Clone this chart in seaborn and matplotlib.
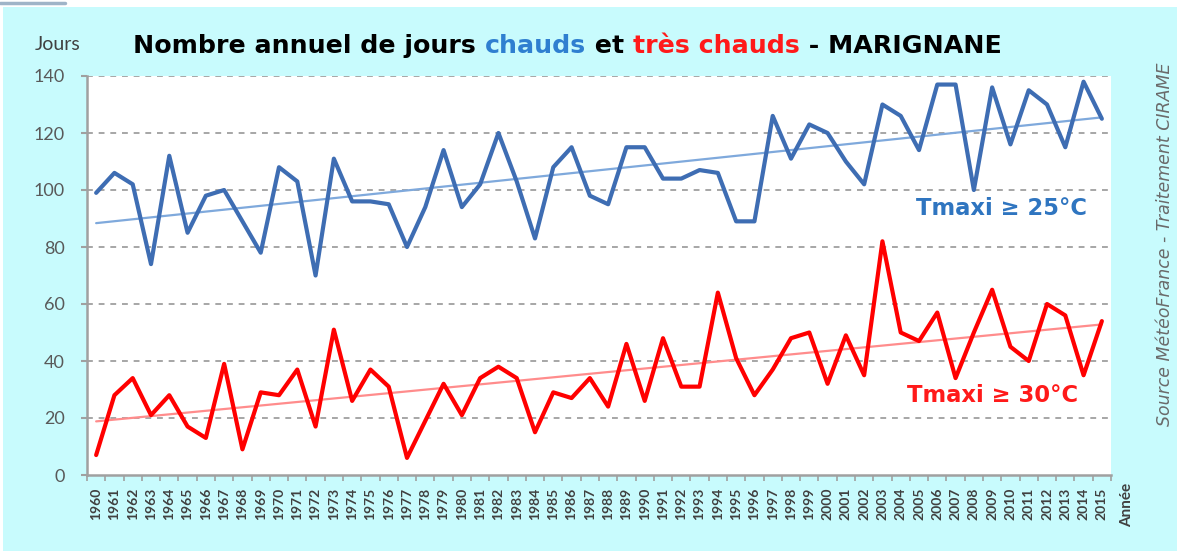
import numpy as np
import pandas as pd
import seaborn as sns
import matplotlib.pyplot as plt
from matplotlib.patches import Rectangle

years = list(range(1960, 2016))
# Tmaxi >= 25°C (jours chauds)
chauds = [99, 106, 102, 74, 112, 85, 98, 100, 89, 78,
          108, 103, 70, 111, 96, 96, 95, 80, 94, 114,
          94, 102, 120, 103, 83, 108, 115, 98, 95, 115,
          115, 104, 104, 107, 106, 89, 89, 126, 111, 123,
          120, 110, 102, 130, 126, 114, 137, 137, 100, 136,
          116, 135, 130, 115, 138, 125]
# Tmaxi >= 30°C (jours tres chauds)
tres_chauds = [7, 28, 34, 21, 28, 17, 13, 39, 9, 29,
               28, 37, 17, 51, 26, 37, 31, 6, 19, 32,
               21, 34, 38, 34, 15, 29, 27, 34, 24, 46,
               26, 48, 31, 31, 64, 41, 28, 37, 48, 50,
               32, 49, 35, 82, 50, 47, 57, 34, 50, 65,
               45, 40, 60, 56, 35, 54]

df = pd.DataFrame({'annee': years, 'chauds': chauds, 'tres_chauds': tres_chauds})

sns.set_theme(style='white')
plt.rcParams['font.family'] = ['Lato', 'DejaVu Sans']

BG = '#c8fbfd'
BLUE = '#3e6db3'
RED = '#ff0000'
WIDE = ['DejaVu Sans']

fig = plt.figure(figsize=(11.77, 5.51), dpi=100)
fig.patch.set_facecolor('white')
fig.patches.append(Rectangle((3 / 1177, 0), 1, 1 - 7 / 551, transform=fig.transFigure,
                             facecolor=BG, edgecolor='none', zorder=-10))
fig.add_artist(plt.Line2D([0, 65 / 1177], [1 - 3 / 551, 1 - 3 / 551], color='#9fb4c8', lw=2.5))

ax = fig.add_axes([87 / 1177, 1 - 475 / 551, (1111 - 87) / 1177, (475 - 76) / 551])
ax.set_facecolor('white')

# droites de tendance
sns.regplot(data=df, x='annee', y='chauds', scatter=False, ci=None, ax=ax,
            line_kws={'color': '#7fa9dc', 'lw': 1.6, 'zorder': 2})
sns.regplot(data=df, x='annee', y='tres_chauds', scatter=False, ci=None, ax=ax,
            line_kws={'color': '#ff8c8c', 'lw': 1.6, 'zorder': 2})

sns.lineplot(data=df, x='annee', y='chauds', color=BLUE, lw=3, ax=ax, zorder=3)
sns.lineplot(data=df, x='annee', y='tres_chauds', color=RED, lw=3, ax=ax, zorder=3)

ax.set_xlim(1959.5, 2015.5)
ax.set_ylim(0, 140)
ax.set_xlabel('')
ax.set_ylabel('')

for v in range(20, 141, 20):
    ax.axhline(v, color='#a6a6a6', lw=1.4, ls=(0, (3, 3)), zorder=1)

for s in ['top', 'right']:
    ax.spines[s].set_visible(False)
for s in ['left', 'bottom']:
    ax.spines[s].set_color('#a0a0a0')
    ax.spines[s].set_linewidth(1.8)

ax.set_yticks(range(0, 141, 20))
ax.set_yticklabels([str(v) for v in range(0, 141, 20)], fontsize=13, color='#595959')
ax.tick_params(axis='y', length=4, width=1.5, color='#a0a0a0', pad=12, left=True)

ax.set_xticks(years)
ax.set_xticklabels([str(y) for y in years], rotation=90, fontsize=10,
                   fontweight='bold', color='#404040')
ax.set_xticks(np.arange(1959.5, 2016, 1), minor=True)
ax.tick_params(axis='x', which='major', length=0, pad=9)
ax.tick_params(axis='x', which='minor', length=4, width=1.2, color='#a0a0a0', bottom=True)

# titres et etiquettes
fig.text(35 / 1177, 1 - 45 / 551, 'Jours', fontsize=14, color='#404040', va='center')

parts = [('Nombre annuel de jours ', 'black'), ('chauds', '#2f7fd0'), (' et ', 'black'),
         ('très chauds', '#ff1a1a'), (' - MARIGNANE', 'black')]
t = fig.text(133 / 1177, 1 - 58 / 551, parts[0][0], color=parts[0][1], family=WIDE,
             fontsize=18.2, fontweight='bold', va='bottom')
for s, c in parts[1:]:
    t = ax.annotate(s, xy=(1, 0), xycoords=t, va='bottom', ha='left', color=c, family=WIDE,
                    fontsize=18.2, fontweight='bold', annotation_clip=False)

ax.text(2014.2, 93.5, 'Tmaxi ≥ 25°C', color='#2f75c0', fontsize=16.3, fontweight='bold',
        family=WIDE, ha='right', va='center')
ax.text(2013.7, 28, 'Tmaxi ≥ 30°C', color='#ff1a1a', fontsize=16.3, fontweight='bold',
        family=WIDE, ha='right', va='center')

fig.text(1165 / 1177, 1 - 244 / 551, 'Source MétéoFrance - Traitement CIRAME', rotation=90,
         fontsize=12.5, style='italic', color='#6a6a6a', family=WIDE, ha='center', va='center')
fig.text(1127 / 1177, 1 - 483 / 551, 'Année', rotation=90, fontsize=11, fontweight='bold',
         color='#404040', ha='center', va='top')

fig.savefig('out.png', dpi=100, facecolor=fig.get_facecolor())
